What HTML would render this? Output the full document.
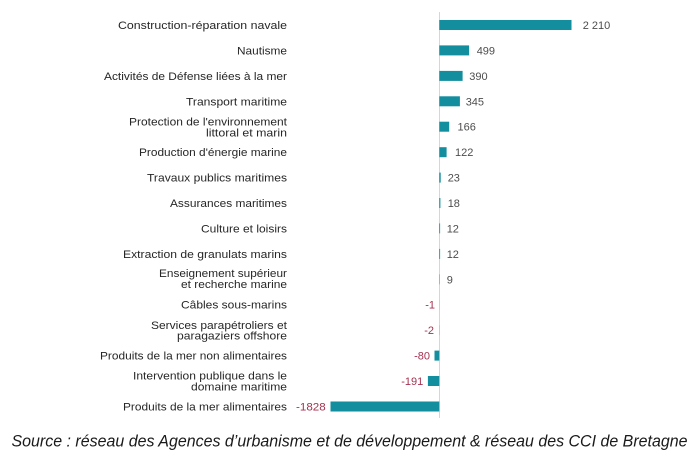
<!DOCTYPE html>
<html>
<head>
<meta charset="utf-8">
<style>
html,body{margin:0;padding:0;background:#ffffff;}
svg{display:block;}
.c{font-family:"Liberation Sans",sans-serif;font-size:11px;fill:#262626;text-anchor:end;}
.v{font-family:"Liberation Sans",sans-serif;font-size:11px;fill:#4d4d4d;}
.n{font-family:"Liberation Sans",sans-serif;font-size:11px;fill:#a4324f;text-anchor:end;}
.s{font-family:"Liberation Sans",sans-serif;font-style:italic;font-size:17px;fill:#1a1a1a;}
</style>
</head>
<body>
<svg width="699" height="465" viewBox="0 0 699 465" xmlns="http://www.w3.org/2000/svg">
<rect width="699" height="465" fill="#ffffff"/>
<!-- axis -->
<line x1="439.5" y1="12" x2="439.5" y2="418" stroke="#d6d6d6" stroke-width="1"/>

<!-- bars (scale 0.0598 px/unit, zero at 439.3) -->
<g fill="#128e9f">
<rect x="439.3" y="20" width="132.2" height="10"/>
<rect x="439.3" y="45.4" width="29.8" height="10"/>
<rect x="439.3" y="70.9" width="23.3" height="10"/>
<rect x="439.3" y="96.3" width="20.6" height="10"/>
<rect x="439.3" y="121.7" width="9.9" height="10"/>
<rect x="439.3" y="147.2" width="7.3" height="10"/>
<rect x="439.3" y="172.6" width="1.4" height="10"/>
<rect x="439.3" y="198" width="1.1" height="10"/>
<rect x="439.3" y="223.4" width="0.8" height="10"/>
<rect x="439.3" y="248.9" width="0.8" height="10"/>
<rect x="439.3" y="274.3" width="0.55" height="10" opacity="0.6"/>
<rect x="439.24" y="299.7" width="0.06" height="10"/>
<rect x="439.18" y="325.2" width="0.12" height="10"/>
<rect x="434.5" y="350.6" width="4.8" height="10"/>
<rect x="427.9" y="376" width="11.4" height="10"/>
<rect x="330.5" y="401.5" width="108.8" height="10"/>
</g>

<!-- category labels -->
<text class="c" x="287" y="29" textLength="169" lengthAdjust="spacingAndGlyphs">Construction-réparation navale</text>
<text class="c" x="287" y="54.4" textLength="50" lengthAdjust="spacingAndGlyphs">Nautisme</text>
<text class="c" x="287" y="79.9" textLength="183" lengthAdjust="spacingAndGlyphs">Activités de Défense liées à la mer</text>
<text class="c" x="287" y="105.3" textLength="101" lengthAdjust="spacingAndGlyphs">Transport maritime</text>
<text class="c" x="287" y="125.6" textLength="158" lengthAdjust="spacingAndGlyphs">Protection de l'environnement</text>
<text class="c" x="287" y="136.3" textLength="81" lengthAdjust="spacingAndGlyphs">littoral et marin</text>
<text class="c" x="287" y="156.2" textLength="148" lengthAdjust="spacingAndGlyphs">Production d'énergie marine</text>
<text class="c" x="287" y="181.6" textLength="140" lengthAdjust="spacingAndGlyphs">Travaux publics maritimes</text>
<text class="c" x="287" y="207" textLength="117" lengthAdjust="spacingAndGlyphs">Assurances maritimes</text>
<text class="c" x="287" y="232.4" textLength="86" lengthAdjust="spacingAndGlyphs">Culture et loisirs</text>
<text class="c" x="287" y="257.9" textLength="164" lengthAdjust="spacingAndGlyphs">Extraction de granulats marins</text>
<text class="c" x="287" y="276.8" textLength="128" lengthAdjust="spacingAndGlyphs">Enseignement supérieur</text>
<text class="c" x="287" y="288" textLength="106" lengthAdjust="spacingAndGlyphs">et recherche marine</text>
<text class="c" x="287" y="308.7" textLength="106" lengthAdjust="spacingAndGlyphs">Câbles sous-marins</text>
<text class="c" x="287" y="329" textLength="136" lengthAdjust="spacingAndGlyphs">Services parapétroliers et</text>
<text class="c" x="287" y="339.7" textLength="110" lengthAdjust="spacingAndGlyphs">paragaziers offshore</text>
<text class="c" x="287" y="359.6" textLength="187" lengthAdjust="spacingAndGlyphs">Produits de la mer non alimentaires</text>
<text class="c" x="287" y="379.7" textLength="154" lengthAdjust="spacingAndGlyphs">Intervention publique dans le</text>
<text class="c" x="287" y="390.6" textLength="96" lengthAdjust="spacingAndGlyphs">domaine maritime</text>
<text class="c" x="287" y="410.5" textLength="164" lengthAdjust="spacingAndGlyphs">Produits de la mer alimentaires</text>

<!-- positive value labels -->
<text class="v" x="582.7" y="29">2 210</text>
<text class="v" x="476.7" y="54.4">499</text>
<text class="v" x="469.3" y="79.9">390</text>
<text class="v" x="465.7" y="105.3">345</text>
<text class="v" x="457.5" y="130.7">166</text>
<text class="v" x="455" y="156.2">122</text>
<text class="v" x="447.7" y="181.6">23</text>
<text class="v" x="447.7" y="207">18</text>
<text class="v" x="446.7" y="232.4">12</text>
<text class="v" x="446.7" y="257.9">12</text>
<text class="v" x="446.7" y="283.3">9</text>

<!-- negative value labels -->
<text class="n" x="435" y="308.7">-1</text>
<text class="n" x="434" y="334.2">-2</text>
<text class="n" x="430" y="359.6">-80</text>
<text class="n" x="423.3" y="385">-191</text>
<text class="n" x="325.7" y="410.5" textLength="29.7" lengthAdjust="spacingAndGlyphs">-1828</text>

<!-- source -->
<text class="s" x="11.5" y="446.5" textLength="676" lengthAdjust="spacingAndGlyphs">Source : réseau des Agences d’urbanisme et de développement &amp; réseau des CCI de Bretagne</text>
</svg>
</body>
</html>
